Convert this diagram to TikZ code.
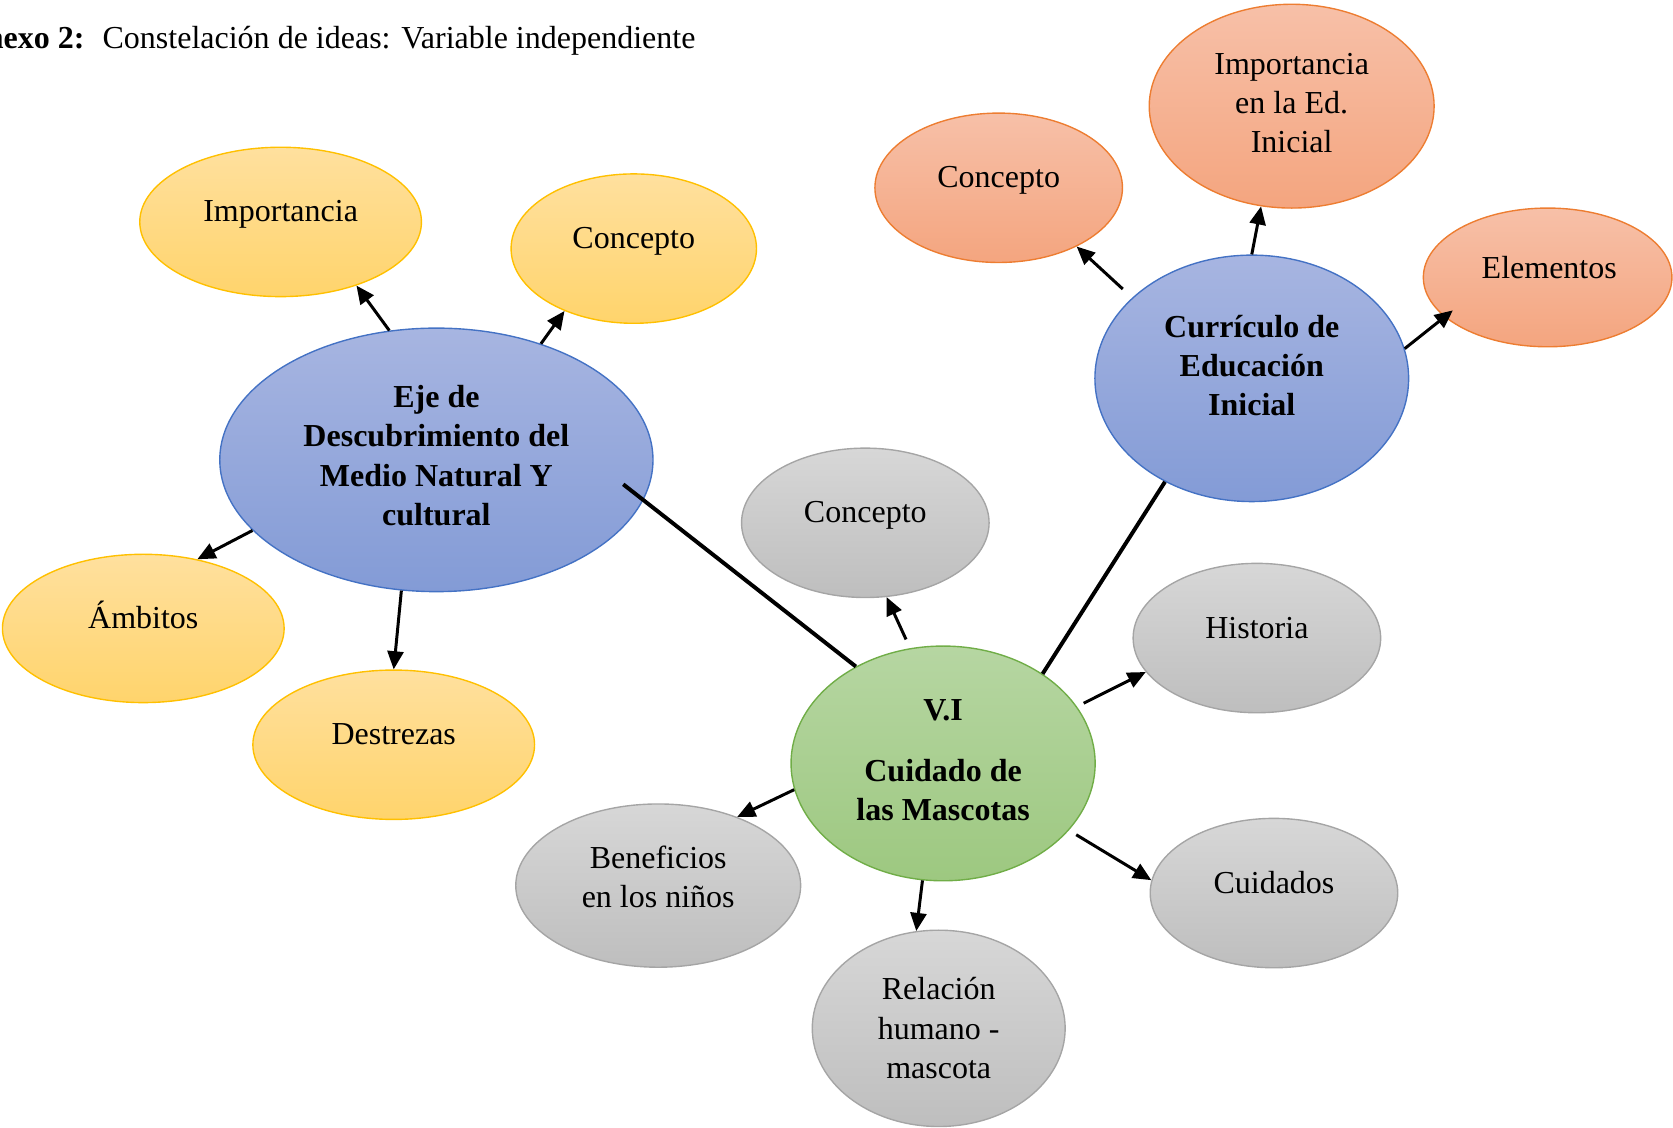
\documentclass[tikz,border=0pt]{standalone}
\usepackage{fontspec}
\setmainfont{Liberation Serif}
\usetikzlibrary{shapes.geometric, arrows.meta}
\definecolor{yelS}{RGB}{255,192,0}
\definecolor{yelT}{RGB}{255,224,158}
\definecolor{yelB}{RGB}{255,212,108}
\definecolor{bluS}{RGB}{68,114,196}
\definecolor{bluT}{RGB}{167,181,225}
\definecolor{bluB}{RGB}{131,155,214}
\definecolor{orS}{RGB}{237,125,49}
\definecolor{orT}{RGB}{247,192,168}
\definecolor{orB}{RGB}{244,165,127}
\definecolor{grS}{RGB}{165,165,165}
\definecolor{grT}{RGB}{215,215,215}
\definecolor{grB}{RGB}{190,190,190}
\definecolor{gnS}{RGB}{112,173,71}
\definecolor{gnT}{RGB}{182,214,162}
\definecolor{gnB}{RGB}{157,200,128}
\newcommand\mlines[1]{\begin{tabular}[t]{@{}c@{}}#1\end{tabular}}
\begin{document}
\begin{tikzpicture}[x=1pt,y=-1pt,
  ell/.style={ellipse, inner sep=0pt, line width=1.3pt},
  sz/.style 2 args={minimum width=#1pt, minimum height=#2pt},
  yel/.style={ell, draw=yelS, top color=yelT, bottom color=yelB},
  blu/.style={ell, draw=bluS, top color=bluT, bottom color=bluB},
  ora/.style={ell, draw=orS, top color=orT, bottom color=orB},
  gry/.style={ell, draw=grS, top color=grT, bottom color=grB},
  grn/.style={ell, draw=gnS, top color=gnT, bottom color=gnB},
  txt/.style={inner sep=0pt, anchor=base, font=\fontsize{30}{36.8}\selectfont},
  arr/.style={line width=2.8pt, -{Triangle[length=17pt,width=15pt]}},
  thk/.style={line width=3.7pt},
]
\useasboundingbox (0,0) rectangle (1568,1057);

% title
\node[txt, anchor=base east] (title) at (652,45)
  {\textbf{Anexo 2:}\hspace{17pt}Constelación de ideas: Variable independiente};

% ellipses
\node[yel, sz={264}{140}] (impY) at (263,208) {};
\node[yel, sz={230}{140}] (conY) at (594,233) {};
\node[blu, sz={406}{247}] (eje) at (409,431) {};
\node[yel, sz={264}{139}] (amb) at (134.3,589) {};
\node[yel, sz={264}{140}] (des) at (369,698) {};
\node[ora, sz={232}{140}] (conR) at (936,176) {};
\node[ora, sz={267}{191}] (impR) at (1210.6,99.5) {};
\node[ora, sz={233}{130}] (ele) at (1450.5,260) {};
\node[blu, sz={294}{231}] (cur) at (1173.2,354.6) {};
\node[gry, sz={232}{140}] (conG) at (811,490) {};
\node[gry, sz={232}{140}] (his) at (1178,598) {};
\node[grn, sz={285}{220}] (vi) at (883.9,715.5) {};
\node[gry, sz={267}{153}] (ben) at (616.9,830) {};
\node[gry, sz={232}{140}] (cui) at (1194,837) {};
\node[gry, sz={237}{184}] (rel) at (879.8,963.8) {};

% texts
\node[txt] (impYt) at (263,208) {Importancia};
\node[txt] (conYt) at (594,233) {Concepto};
\node[txt] (ejet) at (409,382) {\bfseries\mlines{Eje de\\Descubrimiento del\\Medio Natural Y\\cultural}};
\node[txt] (ambt) at (134.3,589) {Ámbitos};
\node[txt] (dest) at (369,698) {Destrezas};
\node[txt] (conRt) at (936,176) {Concepto};
\node[txt] (impRt) at (1210.6,69.5) {\mlines{Importancia\\en la Ed.\\Inicial}};
\node[txt] (elet) at (1452,261) {Elementos};
\node[txt] (curt) at (1173.2,316) {\bfseries\mlines{Currículo de\\Educación\\Inicial}};
\node[txt] (conGt) at (811,490) {Concepto};
\node[txt] (hist) at (1178,598) {Historia};
\node[txt] (vit) at (883.9,675.4) {\bfseries\mlines{V.I\\[20.4pt]Cuidado de\\las Mascotas}};
\node[txt] (bent) at (616.9,814) {\mlines{Beneficios\\en los niños}};
\node[txt] (cuit) at (1194,837) {Cuidados};
\node[txt] (relt) at (879.8,937) {\mlines{Relación\\humano -\\mascota}};

% connectors
\draw[arr] (eje.110) -- (impY.-40.4);
\draw[arr] (eje.48.7) -- (conY.-138.5);
\draw[arr] (eje.201.5) -- (amb.52.2);
\draw[arr] (eje.255.3) -- (des.90);
\draw[thk, shorten <=-24pt] (eje.-11) -- (vi.132.2);
\draw[arr, shorten <=9pt] (vi.106.8) -- (conG.-74.2);
\draw[thk] (vi.42.7) -- (cur.230.3);
\draw[arr, shorten <=7pt] (vi.23.5) -- (his.197);
\draw[arr] (vi.190.6) -- (ben.41.3);
\draw[arr] (vi.260.8) -- (rel.103.6);
\draw[arr, shorten <=8pt] (vi.-28.9) -- (cui.174.6);
\draw[arr, shorten <=12pt] (cur.146.4) -- (conR.-37.1);
\draw[arr] (cur.90) -- (impR.253.2);
\draw[arr, shorten >=-10pt] (cur.11.7) -- (ele.201.7);
\end{tikzpicture}
\end{document}
